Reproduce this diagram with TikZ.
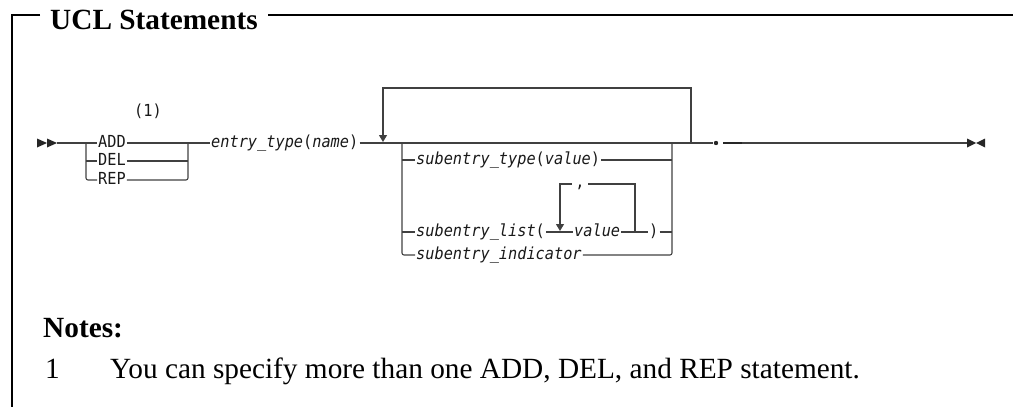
\documentclass[tikz,border=0pt]{standalone}
\usepackage{fontspec}
\setmainfont{Liberation Serif}
\newfontfamily\railfont{DejaVu Sans Mono}[FakeStretch=0.92]
\usetikzlibrary{arrows.meta}

\begin{document}
\begin{tikzpicture}[x=1pt, y=-1pt,
    rail/.style={line width=1.1pt, draw=black!75},
    kw/.style={font=\railfont\fontsize{16.6}{19}\selectfont, text=black!90, inner xsep=1pt, inner ysep=0pt,
        text height=9.5pt, text depth=0pt, anchor=west},
    var/.style={kw, font=\railfont\fontsize{16.6}{19}\selectfont\itshape},
    down/.style={-{Triangle[width=8pt,length=7pt]}, shorten >=1pt},
    serif/.style={font=\fontsize{29.3}{34}\selectfont, inner sep=0pt, anchor=base west}]
        \useasboundingbox (0,0) rectangle (1013,407);

        % Rahmen mit Titel
        \node[serif, font=\fontsize{29.3}{34}\selectfont\bfseries] (title) at (50,29) {UCL Statements};
        \draw[line width=1.2pt] (40,15) -- (12,15) -- (12,407);
        \draw[line width=1.2pt] (268,15) -- (1013,15);

        % Anfang der Syntax
        \fill[black!85] (37,138.5) -- (47,143) -- (37,147.5) -- cycle;
        \fill[black!85] (47,138.5) -- (57,143) -- (47,147.5) -- cycle;
        \coordinate (begin) at (57,143);

        % ADD / DEL / REP
        \coordinate (j1) at (86,143);
        \coordinate (j2) at (188,143);
        \node[kw] (add) at (97,143) {ADD};
        \node[kw] (del) at (97,161) {DEL};
        \node[kw] (rep) at (97,180) {REP};
        \node[kw, anchor=center] (fn) at (148,112) {(1)};
        \draw[rail] (begin) -- (add.west);
        \draw[rail, rounded corners=2pt] (j1) |- (rep.west);
        \draw[rail] (j1 |- del.west) -- (del.west);
        \draw[rail] (add.east) -- (j2);
        \draw[rail] (del.east) -- (j2 |- del.west);
        \draw[rail, rounded corners=2pt] (rep.east) -| (j2);

        % entry_type
        \node[var] (entry) at (210,143) {entry\_type\textup{(}name\textup{)}};
        \draw[rail] (j2) -- (entry.west);

        % Wiederholung
        \coordinate (loopL) at (383,143);
        \coordinate (j3) at (402,143);
        \coordinate (j4) at (672,143);
        \coordinate (loopR) at (691,143);
        \coordinate (stop) at (713,143);
        \draw[rail] (entry.east) -- (loopR) -- (stop);
        \draw[rail, down] (loopR) -- ++(0,-55) -| (loopL);

        % Auswahl der Unterangaben
        \node[var] (subtype) at (415,160) {subentry\_type\textup{(}value\textup{)}};
        \node[var] (sublist) at (415,232) {subentry\_list\textup{(}};
        \node[var] (subval) at (573,232) {value};
        \node[kw] (subclose) at (648,232) {)};
        \node[var] (subind) at (415,255) {subentry\_indicator};
        \draw[rail, rounded corners=2pt] (j3) |- (subind.west);
        \draw[rail] (j3 |- subtype.west) -- (subtype.west);
        \draw[rail] (j3 |- sublist.west) -- (sublist.west);
        \draw[rail, rounded corners=2pt] (subind.east) -| (j4);
        \draw[rail] (subtype.east) -- (j4 |- subtype.west);
        \draw[rail] (subclose.east) -- (j4 |- subclose.west);

        % Liste mit Komma
        \coordinate (cL) at (560,232);
        \coordinate (cR) at (635,232);
        \draw[rail] (sublist.east) -- (subval.west);
        \draw[rail] (subval.east) -- (subclose.west);
        \draw[rail, down] (cR) -- ++(0,-48) -| (cL);
        \node[kw, anchor=base, fill=white, inner xsep=3pt, inner ysep=1pt] (comma) at (580,187) {,};

        % Ende
        \fill[black!85] (716,143) circle (2.2);
        \draw[line width=2.2pt, black!85] (723,143) -- (742,143);
        \coordinate (finish) at (967,143);
        \draw[rail] (742,143) -- (finish);
        \fill[black!85] (967,138.5) -- (976,143) -- (967,147.5) -- cycle;
        \fill[black!85] (985,138.5) -- (976,143) -- (985,147.5) -- cycle;

        % Anmerkungen
        \node[serif, font=\fontsize{29.3}{34}\selectfont\bfseries] (notes) at (43,337) {Notes:};
        \node[serif] (n1) at (45,378) {1};
        \node[serif] (n1text) at (110,378) {You can specify more than one ADD, DEL, and REP statement.};
    \end{tikzpicture}
\end{document}
